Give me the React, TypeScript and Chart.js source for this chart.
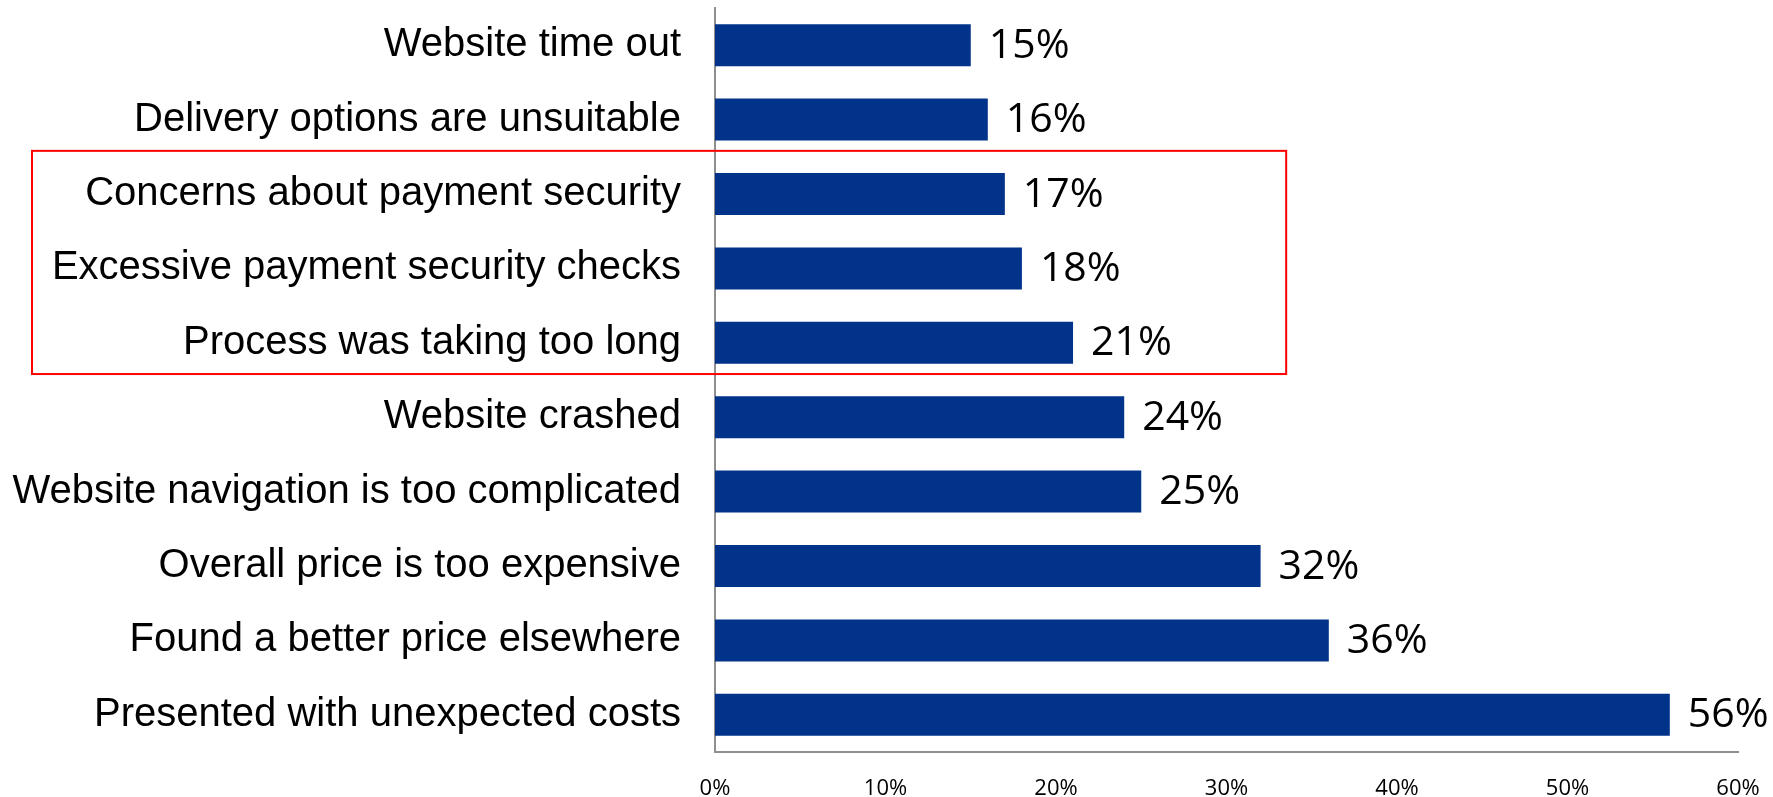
import React, { useEffect, useRef } from "react";
import { Chart, registerables } from "chart.js";

Chart.register(...registerables);

const categories: string[] = [
  "Website time out",
  "Delivery options are unsuitable",
  "Concerns about payment security",
  "Excessive payment security checks",
  "Process was taking too long",
  "Website crashed",
  "Website navigation is too complicated",
  "Overall price is too expensive",
  "Found a better price elsewhere",
  "Presented with unexpected costs",
];

const values: number[] = [15, 16, 17, 18, 21, 24, 25, 32, 36, 56];

const xTicks: number[] = [0, 10, 20, 30, 40, 50, 60];

// highlighted group (red box) from category index to index, right edge in axis units
const highlightFrom = 2;
const highlightTo = 4;
const highlightXMax = 33.5;

const BAR_COLOR = "#02338a";
const AXIS_COLOR = "#8f8f8f";

const dataLabelPlugin = {
  id: "dataLabels",
  afterDatasetsDraw(chart: any) {
    const ctx = chart.ctx;
    const meta = chart.getDatasetMeta(0);
    ctx.save();
    ctx.font = "41px 'Open Sans'";
    ctx.fillStyle = "#000";
    ctx.textAlign = "left";
    ctx.textBaseline = "middle";
    meta.data.forEach((el: any, i: number) => {
      ctx.fillText(values[i] + "%", el.x + 18, el.y + 1);
    });
    ctx.restore();
  },
};

const highlightPlugin = {
  id: "highlightBox",
  afterDraw(chart: any) {
    const ctx = chart.ctx;
    const y = chart.scales.y;
    const x = chart.scales.x;
    const band = y.height / categories.length;
    const top = y.getPixelForValue(highlightFrom) - band * 0.58;
    const bottom = y.getPixelForValue(highlightTo) + band * 0.42;
    const right = x.getPixelForValue(highlightXMax);
    const left = 32;
    ctx.save();
    ctx.strokeStyle = "#ff0000";
    ctx.lineWidth = 2;
    ctx.strokeRect(left, top, right - left, bottom - top);
    ctx.restore();
  },
};

export default function App() {
  const ref = useRef<HTMLCanvasElement | null>(null);

  useEffect(() => {
    document.body.style.margin = "0";
    if (!ref.current) return;
    const chart = new Chart(ref.current, {
      type: "bar",
      data: {
        labels: categories,
        datasets: [
          {
            data: values,
            backgroundColor: BAR_COLOR,
            borderWidth: 0,
            barPercentage: 0.564,
            categoryPercentage: 1,
          },
        ],
      },
      options: {
        indexAxis: "y",
        animation: false,
        responsive: false,
        layout: { padding: { top: 8, right: 35, left: 0, bottom: 0 } },
        plugins: {
          legend: { display: false },
          tooltip: { enabled: false },
          title: { display: false },
        },
        scales: {
          x: {
            min: 0,
            max: 60,
            afterBuildTicks: (scale: any) => {
              scale.ticks = xTicks.map((v) => ({ value: v }));
            },
            afterFit: (scale: any) => {
              scale.height = 45;
              scale.paddingLeft = 0;
              scale.paddingRight = 0;
            },
            grid: { display: false, drawTicks: false },
            border: { display: true, color: AXIS_COLOR, width: 2 },
            ticks: {
              padding: 24,
              color: "#000",
              font: { family: "'Open Sans'", size: 22 },
              maxRotation: 0,
              callback: (v: any) => v + "%",
            },
          },
          y: {
            afterFit: (scale: any) => {
              scale.width = 715;
              scale.paddingTop = 0;
              scale.paddingBottom = 0;
            },
            grid: { display: false, drawTicks: false },
            border: { display: true, color: AXIS_COLOR, width: 2 },
            ticks: {
              padding: 34,
              color: "#000",
              font: { family: "'Liberation Sans', Arial, sans-serif", size: 40 },
              autoSkip: false,
            },
          },
        },
      },
      plugins: [dataLabelPlugin, highlightPlugin],
    } as any);
    return () => chart.destroy();
  }, []);

  return (
    <div style={{ position: "absolute", left: 0, top: 0, width: 1773, height: 797, background: "#fff" }}>
      <canvas ref={ref} width={1773} height={797} />
    </div>
  );
}
